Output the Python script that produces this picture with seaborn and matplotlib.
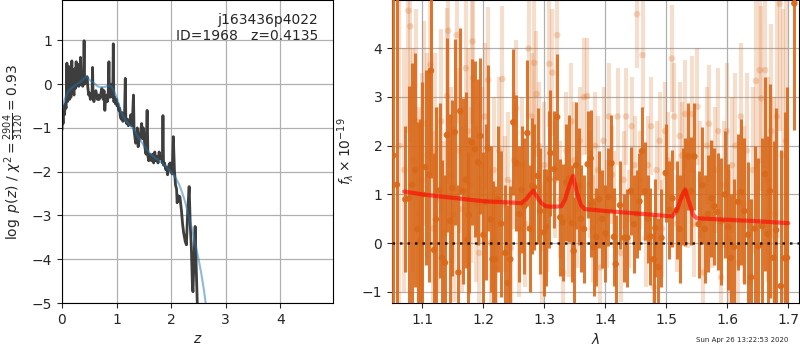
import matplotlib
matplotlib.use("Agg")
import matplotlib.pyplot as plt
import seaborn as sns
import numpy as np

# ---------------- data ----------------
# left panel: log p(z)
pz_z = [0.000, 0.010, 0.020, 0.030, 0.045, 0.060, 0.075, 0.090, 0.100, 0.115,
        0.125, 0.135, 0.150, 0.165, 0.180, 0.190, 0.205, 0.220, 0.235, 0.245,
        0.260, 0.270, 0.285, 0.300, 0.310, 0.325, 0.340, 0.350, 0.365, 0.380,
        0.395, 0.405, 0.415, 0.430, 0.445, 0.460, 0.475, 0.490, 0.505, 0.520,
        0.535, 0.550, 0.560, 0.570, 0.585, 0.600, 0.620, 0.635, 0.650, 0.665,
        0.680, 0.700, 0.715, 0.730, 0.740, 0.755, 0.770, 0.785, 0.800, 0.815,
        0.830, 0.845, 0.860, 0.870, 0.885, 0.900, 0.915, 0.930, 0.940, 0.950,
        0.965, 0.980, 0.995, 1.010, 1.025, 1.040, 1.055, 1.070, 1.085, 1.100,
        1.115, 1.130, 1.145, 1.160, 1.170, 1.185, 1.200, 1.215, 1.230, 1.245,
        1.260, 1.275, 1.290, 1.310, 1.320, 1.335, 1.350, 1.365, 1.380, 1.395,
        1.410, 1.425, 1.440, 1.460, 1.475, 1.490, 1.505, 1.520, 1.540, 1.560,
        1.575, 1.590, 1.605, 1.620, 1.640, 1.660, 1.680, 1.700, 1.720, 1.740,
        1.760, 1.780, 1.800, 1.820, 1.840, 1.850, 1.860, 1.880, 1.900, 1.920,
        1.935, 1.960, 1.980, 2.000, 2.020, 2.040, 2.060, 2.080, 2.100, 2.110,
        2.130, 2.160, 2.190, 2.210, 2.230, 2.260, 2.280, 2.300, 2.330, 2.350,
        2.370, 2.390, 2.400, 2.420, 2.440, 2.460, 2.480, 2.520, 2.560]
pz_logp = [-1.05, -0.65, -0.90, -0.50, -0.70, -0.45, -0.55, 0.48, -0.40, -0.30,
           0.40, -0.35, -0.25, -0.30, 0.53, -0.20, -0.15, -0.25, 0.35, -0.10,
           0.51, -0.05, 0.00, 0.45, -0.05, 0.10, 0.61, 0.00, 0.05, -0.05,
           0.20, 0.99, 0.00, 0.15, 0.05, 0.17, -0.10, -0.25, -0.20, -0.35,
           -0.25, -0.30, 0.38, -0.30, -0.40, -0.30, -0.15, -0.25, -0.35, -0.25,
           -0.35, -0.30, -0.20, -0.10, -0.17, -0.35, -0.15, -0.60, -0.30, -0.25,
           -0.40, -0.30, 0.51, -0.25, -0.30, -0.20, 0.00, -0.30, 0.92, -0.40,
           -0.30, -0.45, -0.35, -0.50, -0.45, -0.60, -0.55, -0.75, -0.80, -0.65,
           -0.85, -0.75, -0.80, 0.13, -0.85, -0.90, -0.80, -0.95, -0.85, -0.90,
           -0.70, -0.95, -0.85, -0.25, -1.05, -1.20, -1.35, -1.30, -1.00, -1.43,
           -1.30, -1.20, -1.10, -0.90, -1.25, -1.00, -1.20, -1.45, -1.60, -0.60,
           -1.65, -1.75, -1.60, -1.70, -1.75, -1.60, -1.80, -1.55, -1.75, -1.65,
           -1.80, -1.55, -1.70, -1.65, -1.80, -0.72, -1.85, -1.80, -1.95, -1.90,
           -2.07, -1.85, -1.80, -2.00, -2.05, -1.20, -1.96, -2.30, -2.40, -2.71,
           -2.55, -2.57, -2.90, -3.20, -3.40, -3.60, -3.67, -3.00, -2.34, -3.20,
           -3.71, -4.60, -4.74, -4.00, -3.25, -4.20, -5.04, -6.00, -7.00]

# smooth prior-weighted curve
sm_z = [0.00, 0.05, 0.10, 0.15, 0.20, 0.25, 0.30, 0.35, 0.40, 0.45, 0.50, 0.55,
        0.60, 0.65, 0.70, 0.75, 0.80, 0.85, 0.90, 0.95, 1.00, 1.05, 1.10, 1.15,
        1.20, 1.25, 1.30, 1.40, 1.50, 1.60, 1.70, 1.80, 1.90, 2.00, 2.05, 2.10,
        2.15, 2.20, 2.25, 2.30, 2.35, 2.40, 2.45, 2.50, 2.55, 2.60, 2.65, 2.70]
sm_logp = [-0.62, -0.35, -0.20, -0.12, -0.06, -0.02, 0.02, 0.06, 0.13, 0.17, 0.10, 0.05,
           0.01, -0.05, -0.07, -0.07, -0.06, -0.03, -0.05, -0.15, -0.30, -0.50, -0.68, -0.80,
           -0.88, -0.94, -1.00, -1.22, -1.40, -1.57, -1.68, -1.77, -1.87, -2.00, -2.08, -2.18,
           -2.30, -2.47, -2.66, -2.90, -3.15, -3.40, -3.70, -3.98, -4.30, -4.70, -5.15, -5.60]

# right panel: spectrum, primary points
wave_a = [1.052, 1.058, 1.072, 1.078, 1.083, 1.088, 1.092, 1.096, 1.100, 1.105,
          1.110, 1.114, 1.119, 1.122, 1.128, 1.132, 1.137, 1.140, 1.145, 1.149,
          1.153, 1.159, 1.162, 1.167, 1.171, 1.174, 1.176, 1.181, 1.186, 1.191,
          1.195, 1.200, 1.204, 1.207, 1.212, 1.215, 1.219, 1.224, 1.229, 1.236,
          1.240, 1.244, 1.249, 1.254, 1.259, 1.263, 1.267, 1.272, 1.276, 1.280,
          1.283, 1.289, 1.293, 1.299, 1.303, 1.308, 1.310, 1.316, 1.321, 1.326,
          1.330, 1.336, 1.340, 1.345, 1.348, 1.352, 1.356, 1.360, 1.365, 1.371,
          1.376, 1.377, 1.381, 1.385, 1.390, 1.395, 1.400, 1.405, 1.410, 1.414,
          1.417, 1.424, 1.431, 1.436, 1.442, 1.447, 1.452, 1.456, 1.460, 1.465,
          1.470, 1.474, 1.479, 1.482, 1.487, 1.492, 1.499, 1.505, 1.510, 1.517,
          1.522, 1.527, 1.530, 1.536, 1.541, 1.546, 1.553, 1.559, 1.563, 1.568,
          1.574, 1.579, 1.584, 1.590, 1.596, 1.602, 1.606, 1.611, 1.618, 1.623,
          1.628, 1.634, 1.639, 1.645, 1.651, 1.657, 1.662, 1.666, 1.670, 1.676,
          1.680, 1.688, 1.694, 1.698, 1.710]
flux_a = [1.80, 1.20, 0.90, 0.92, 1.20, 1.50, 0.29, 0.05, 1.00, 1.56,
          1.40, 3.54, -0.14, 0.49, 1.08, -0.30, -0.40, 2.22, 0.46, 1.13,
          2.28, -0.60, 2.71, 1.07, 1.30, 0.07, 0.58, 2.07, 1.93, 1.66,
          2.20, 0.17, 0.85, 1.95, 0.49, -0.33, -0.33, 0.90, 0.40, -0.20,
          -0.82, -0.33, 2.48, 1.64, 0.60, 1.10, 0.76, 2.26, 0.30, 1.17,
          1.15, 1.38, 0.66, 0.22, 0.33, 1.31, 1.85, 1.52, 2.59, 0.53,
          0.43, 1.25, 1.33, 0.41, -0.16, 1.60, 1.17, 0.50, 0.29, 1.62,
          1.74, 0.82, -0.08, 0.13, 0.90, 0.50, 0.20, 0.95, 1.64, 0.13,
          -0.43, 0.78, 0.11, 0.11, 1.07, 0.39, 0.60, 0.86, 1.89, 1.07,
          0.50, 0.14, -0.33, 0.31, -0.49, 0.11, 1.44, 0.68, 0.92, 0.68,
          0.29, 0.96, 1.05, 1.78, 1.07, 1.78, 0.39, 1.19, 0.29, 0.60,
          0.92, 0.76, 0.64, 0.45, 1.00, 0.33, -0.30, -0.08, 0.85, 1.05,
          0.66, 0.17, -0.70, 0.30, -0.06, 0.35, 1.42, 0.19, 1.07, -0.30,
          0.27, -0.88, -0.31, -0.30, 4.92]
err_a = [6.0, 6.0, 1.5, 2.3, 2.5, 2.4, 2.2, 2.5, 2.3, 2.0,
         2.2, 2.2, 2.0, 2.3, 1.8, 2.0, 1.8, 2.0, 2.2, 1.8,
         1.9, 1.8, 1.7, 1.9, 1.8, 1.8, 1.6, 1.7, 1.8, 1.7,
         1.6, 1.7, 1.6, 1.7, 1.5, 1.6, 1.5, 1.5, 1.5, 1.4,
         1.6, 1.5, 1.5, 1.4, 1.4, 1.3, 1.4, 1.5, 1.3, 1.4,
         1.3, 1.4, 1.3, 1.3, 1.2, 1.4, 1.3, 1.2, 1.3, 1.2,
         1.2, 1.2, 1.3, 1.2, 1.1, 1.3, 1.2, 1.1, 1.1, 1.1,
         1.0, 1.1, 1.0, 1.0, 1.0, 1.0, 1.0, 1.0, 1.0, 1.0,
         1.0, 0.9, 0.9, 1.0, 0.9, 1.0, 0.9, 1.0, 0.9, 1.0,
         0.9, 1.0, 0.9, 1.0, 1.0, 1.0, 1.0, 1.0, 1.0, 1.0,
         1.1, 1.0, 1.1, 1.1, 1.1, 1.1, 1.1, 1.2, 1.1, 1.2,
         1.2, 1.2, 1.2, 1.3, 1.3, 1.3, 1.3, 1.4, 1.4, 1.5,
         1.5, 1.5, 1.6, 1.7, 1.8, 1.8, 2.0, 2.0, 2.2, 2.4,
         2.5, 2.8, 3.0, 3.5, 2.6]

# right panel: secondary (faint) points
wave_b = [1.062, 1.070, 1.077, 1.080, 1.085, 1.090, 1.094, 1.099, 1.103, 1.108,
          1.113, 1.117, 1.121, 1.126, 1.131, 1.136, 1.140, 1.142, 1.147, 1.151,
          1.156, 1.160, 1.165, 1.171, 1.175, 1.179, 1.182, 1.183, 1.188, 1.193,
          1.197, 1.202, 1.208, 1.212, 1.217, 1.221, 1.226, 1.231, 1.235, 1.240,
          1.245, 1.250, 1.254, 1.259, 1.264, 1.269, 1.274, 1.279, 1.283, 1.287,
          1.291, 1.296, 1.300, 1.305, 1.308, 1.313, 1.318, 1.321, 1.326, 1.331,
          1.336, 1.340, 1.344, 1.349, 1.354, 1.358, 1.365, 1.370, 1.374, 1.379,
          1.383, 1.388, 1.392, 1.397, 1.402, 1.406, 1.411, 1.415, 1.420, 1.425,
          1.430, 1.434, 1.439, 1.443, 1.448, 1.452, 1.457, 1.461, 1.466, 1.470,
          1.475, 1.480, 1.484, 1.489, 1.493, 1.498, 1.503, 1.509, 1.513, 1.517,
          1.522, 1.526, 1.531, 1.536, 1.542, 1.546, 1.551, 1.556, 1.561, 1.566,
          1.570, 1.575, 1.580, 1.585, 1.590, 1.594, 1.599, 1.603, 1.608, 1.613,
          1.618, 1.622, 1.627, 1.632, 1.637, 1.642, 1.647, 1.653, 1.656, 1.662,
          1.667, 1.672, 1.677, 1.681, 1.686, 1.691, 1.696]
flux_b = [2.00, 1.50, 4.77, 4.45, 1.70, 2.50, 0.60, 1.30, 2.45, 1.80,
          3.66, 0.30, 1.90, 0.90, 2.50, 0.20, 3.02, 4.36, 1.40, 0.60,
          4.27, 1.90, 0.70, 3.59, 2.30, 1.20, 4.14, 3.39, 0.80, -0.20,
          1.60, 2.60, 3.35, 0.00, 1.50, -0.50, 1.90, 3.37, 0.80, 1.30,
          -0.10, 1.70, 2.77, 0.30, 1.60, 0.40, 3.99, 2.60, 3.70, 3.06,
          2.00, -0.10, 1.60, 0.70, 3.68, 3.50, 1.30, 4.27, 0.90, -0.60,
          1.90, 0.50, 2.50, 1.70, 0.70, 2.10, 3.00, 3.02, 1.20, 0.30,
          2.00, 1.50, -0.50, 2.10, 0.60, 2.60, 1.40, 0.90, 2.60, -0.20,
          1.30, 2.60, 0.50, 2.40, 1.60, 4.70, 1.30, 3.86, 0.10, 1.60,
          2.40, -0.90, 1.50, 2.10, 0.30, 2.30, 1.70, 3.79, 2.60, 0.40,
          2.20, 1.80, 2.65, 1.00, 2.65, 0.40, 2.80, 1.30, -0.60, 2.00,
          2.45, 0.80, 1.50, 2.30, -0.70, 1.20, 2.30, 0.10, 1.60, 2.00,
          -0.40, 2.60, 0.80, 1.90, -0.80, 1.50, 3.33, 3.55, 2.97, 3.55,
          1.30, 2.30, 0.60, 2.60, 4.91, 1.80, 2.10]
err_b = [6.0, 2.5, 2.5, 2.4, 2.3, 2.3, 2.2, 2.2, 2.1, 2.1,
         2.0, 2.0, 2.0, 1.9, 1.9, 1.9, 1.8, 1.9, 1.8, 1.8,
         1.8, 1.7, 1.7, 1.7, 1.7, 1.6, 1.7, 1.6, 1.6, 1.6,
         1.6, 1.5, 1.5, 1.5, 1.5, 1.5, 1.5, 1.5, 1.4, 1.4,
         1.4, 1.4, 1.4, 1.4, 1.4, 1.3, 1.4, 1.3, 1.4, 1.3,
         1.3, 1.3, 1.3, 1.3, 1.3, 1.3, 1.2, 1.3, 1.2, 1.2,
         1.2, 1.2, 1.2, 1.2, 1.2, 1.1, 1.2, 1.2, 1.1, 1.1,
         1.1, 1.1, 1.1, 1.1, 1.1, 1.1, 1.0, 1.0, 1.0, 1.0,
         1.0, 1.0, 1.0, 1.0, 1.0, 1.1, 1.0, 1.1, 1.0, 1.0,
         1.0, 1.0, 1.0, 1.0, 1.0, 1.0, 1.0, 1.1, 1.1, 1.0,
         1.1, 1.1, 1.1, 1.1, 1.2, 1.1, 1.2, 1.2, 1.2, 1.2,
         1.2, 1.3, 1.3, 1.3, 1.3, 1.3, 1.4, 1.4, 1.4, 1.5,
         1.5, 1.5, 1.6, 1.6, 1.7, 1.7, 1.8, 1.9, 1.9, 2.0,
         2.1, 2.2, 2.4, 2.5, 2.6, 3.0, 3.5]

# best-fit model
model_wave = [1.070, 1.100, 1.150, 1.200, 1.250, 1.262, 1.270, 1.276, 1.282, 1.288,
              1.295, 1.302, 1.310, 1.320, 1.328, 1.334, 1.340, 1.347, 1.353, 1.360,
              1.366, 1.400, 1.450, 1.500, 1.510, 1.518, 1.525, 1.531, 1.537, 1.544,
              1.550, 1.600, 1.650, 1.700]
model_flux = [1.06, 1.00, 0.93, 0.86, 0.83, 0.82, 0.90, 1.00, 1.08, 0.95,
              0.82, 0.76, 0.75, 0.75, 0.76, 0.90, 1.15, 1.38, 1.05, 0.78,
              0.70, 0.66, 0.61, 0.56, 0.55, 0.70, 0.95, 1.10, 0.85, 0.58,
              0.51, 0.48, 0.45, 0.41]

title_lines = ["j163436p4022", "ID=1968   z=0.4135"]
timestamp = "Sun Apr 26 13:22:53 2020"

# ---------------- style ----------------
sns.set_style("ticks", {"axes.edgecolor": "black", "grid.color": "#b0b0b0"})
plt.rcParams["font.family"] = ["DejaVu Sans"]
plt.rcParams["font.size"] = 10
plt.rcParams["xtick.labelsize"] = 10
plt.rcParams["ytick.labelsize"] = 10
plt.rcParams["axes.labelsize"] = 10

fig = plt.figure(figsize=(8, 3.5), dpi=100)
ax1 = fig.add_axes([0.0775, 0.134, 0.339, 0.866])
ax2 = fig.add_axes([0.490, 0.134, 0.509, 0.866])

# ---- left: p(z)
sns.lineplot(x=pz_z, y=pz_logp, ax=ax1, color="0.2", lw=2, alpha=0.95,
             sort=False, estimator=None)
sns.lineplot(x=sm_z, y=sm_logp, ax=ax1, color="tab:blue", lw=1.5, alpha=0.5,
             sort=False, estimator=None)
ax1.set_xlim(0, 4.97)
ax1.set_ylim(-5, 1.92)
ax1.set_xticks([0, 1, 2, 3, 4])
ax1.set_yticks([-5, -4, -3, -2, -1, 0, 1])
ax1.grid(True, color="#b0b0b0", lw=0.9)
ax1.set_axisbelow(True)
ax1.set_xlabel(r"$z$")
ax1.set_ylabel(r"$\log\ p(z)$ / $\chi^2=\frac{2904}{3120}=0.93$")
ax1.text(0.945, 0.958, "\n".join(title_lines), transform=ax1.transAxes,
         ha="right", va="top", fontsize=10)

# ---- right: spectrum
orange = "#d9691a"
ax2.errorbar(wave_b, flux_b, yerr=err_b, fmt="none", ecolor=orange, alpha=0.22,
             elinewidth=3, zorder=1)
sns.scatterplot(x=wave_b, y=flux_b, ax=ax2, color=orange, alpha=0.25, s=22,
                edgecolor="none", zorder=2)
ax2.errorbar(wave_a, flux_a, yerr=err_a, fmt="none", ecolor=orange, alpha=0.9,
             elinewidth=2.2, zorder=3)
sns.scatterplot(x=wave_a, y=flux_a, ax=ax2, color=orange, alpha=0.95, s=22,
                edgecolor="none", zorder=4)
sns.lineplot(x=model_wave, y=model_flux, ax=ax2, color="red", lw=3, alpha=0.6,
             sort=False, estimator=None, zorder=5)
ax2.axhline(0, color="k", linestyle=(0, (1, 2)), lw=1.8, alpha=0.85, zorder=6)
ax2.set_xlim(1.05, 1.718)
ax2.set_ylim(-1.23, 4.99)
ax2.set_xticks([1.1, 1.2, 1.3, 1.4, 1.5, 1.6, 1.7])
ax2.set_yticks([-1, 0, 1, 2, 3, 4])
ax2.grid(True, color="#b0b0b0", lw=0.9)
ax2.set_axisbelow(True)
ax2.set_xlabel(r"$\lambda$")
ax2.set_ylabel(r"$f_\lambda\times10^{-19}$")

fig.text(0.985, 0.028, timestamp, ha="right", va="center", fontsize=5)

fig.savefig("out.png", dpi=100)
